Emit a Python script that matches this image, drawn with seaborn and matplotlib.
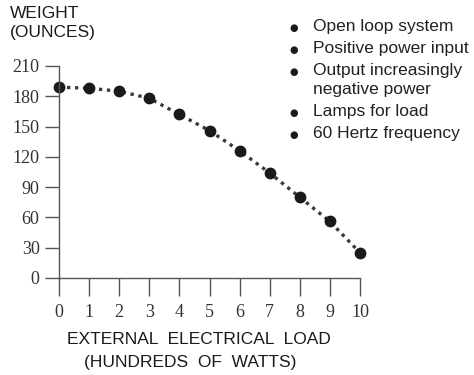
import matplotlib
matplotlib.use("Agg")
import matplotlib.pyplot as plt
import seaborn as sns
import pandas as pd

# values
load_hundreds_w = [0, 1, 2, 3, 4, 5, 6, 7, 8, 9, 10]
weight_oz = [189, 188, 185, 178, 162, 146, 126, 104, 80, 56, 25]
y_ticks = [0, 30, 60, 90, 120, 150, 180, 210]
notes = ["Open loop system", "Positive power input", "Output increasingly\nnegative power",
         "Lamps for load", "60 Hertz frequency"]

df = pd.DataFrame({"load": load_hundreds_w, "weight": weight_oz})

sns.set_style("ticks")
plt.rcParams['font.family'] = ['Liberation Sans', 'DejaVu Sans']

fig = plt.figure(figsize=(4.74, 3.75), dpi=100)
ax = fig.add_axes([59 / 474, 1 - 278 / 375, 301 / 474, 212 / 375])

ink = "#1a1a1a"
sns.lineplot(data=df, x="load", y="weight", ax=ax, color="#3a3a3a", linestyle=(0, (1, 1.4)),
             linewidth=2.4, marker="o", markersize=8.5, markeredgewidth=0,
             markerfacecolor=ink)
for ln in ax.lines:
    ln.set_clip_on(False)

ax.set_xlim(0, 10)
ax.set_ylim(0, 210)
ax.set_xticks(load_hundreds_w)
ax.set_yticks(y_ticks)
ax.set_xlabel("")
ax.set_ylabel("")
sns.despine(ax=ax)
for s in ["left", "bottom"]:
    ax.spines[s].set_color("#555555")
    ax.spines[s].set_linewidth(1.0)
ax.tick_params(axis="x", length=13, width=1.0, color="#555555", pad=6)
ax.tick_params(axis="y", length=10, width=1.0, color="#555555", pad=4)
for lab in ax.get_xticklabels() + ax.get_yticklabels():
    lab.set_fontfamily("Liberation Serif")
    lab.set_fontsize(13)
    lab.set_color("#333333")

fig.text(10 / 474, 1 - 6 / 375, "WEIGHT\n(OUNCES)", ha="left", va="top", fontsize=12.5,
         color=ink, linespacing=1.35)

fig.text(199 / 474, 1 - 340 / 375, "EXTERNAL  ELECTRICAL  LOAD", ha="center", va="center",
         fontsize=12.5, color=ink)
fig.text(190 / 474, 1 - 362 / 375, "(HUNDREDS  OF  WATTS)", ha="center", va="center",
         fontsize=12.5, color=ink)

line_ys = [28, 50, 72, 113, 135]
for txt, yy in zip(notes, line_ys):
    fig.text(294 / 474, 1 - yy / 375, "\u25cf", ha="center", va="center", fontsize=7,
             color=ink, family="DejaVu Sans")
    fig.text(313 / 474, 1 - (yy - 9) / 375, txt, ha="left", va="top", fontsize=12.5,
             color="#222222", linespacing=1.35)

fig.savefig("out.png", dpi=100)
